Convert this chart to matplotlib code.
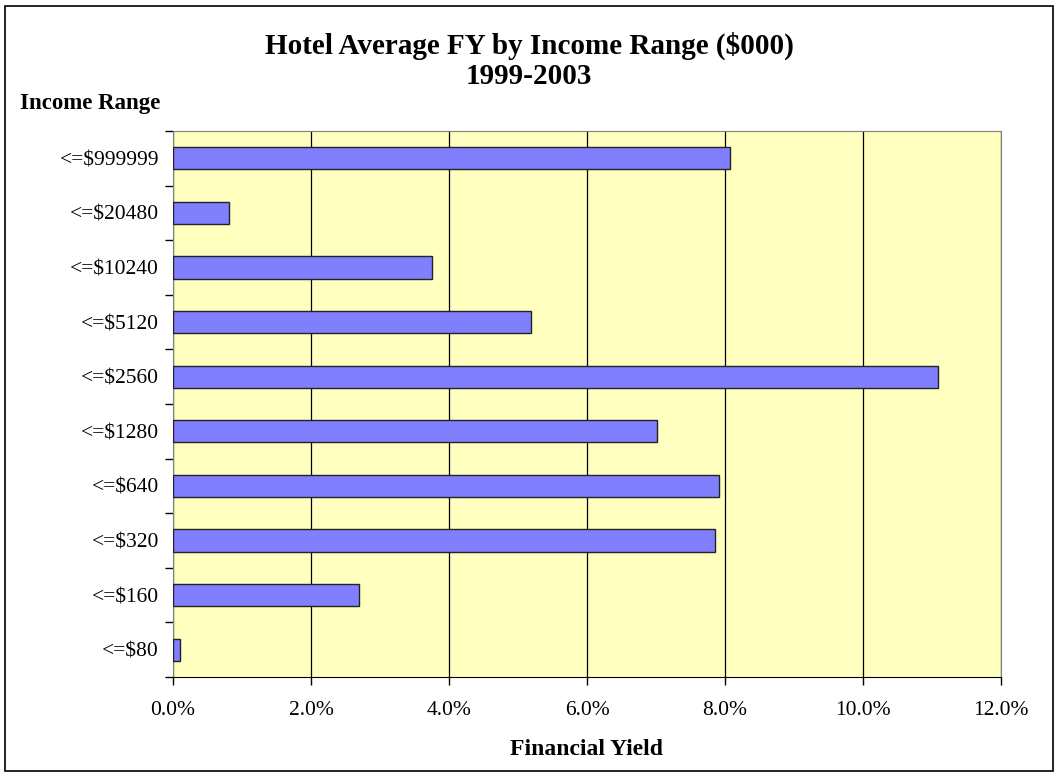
import numpy as np
import matplotlib
matplotlib.use("Agg")
import matplotlib.pyplot as plt
from matplotlib.ticker import FuncFormatter, FixedLocator

# income ranges, bottom to top as drawn
ranges = ["<=$80", "<=$160", "<=$320", "<=$640", "<=$1280",
          "<=$2560", "<=$5120", "<=$10240", "<=$20480", "<=$999999"]
# average financial yield (%)
yield_pct = [0.10, 2.70, 7.85, 7.91, 7.02, 11.08, 5.19, 3.75, 0.81, 8.07]
x_ticks = [0, 2, 4, 6, 8, 10, 12]

plt.rcParams["font.family"] = ["Liberation Serif", "DejaVu Serif"]

fig = plt.figure(figsize=(10.58, 7.76), dpi=100)
ax = fig.add_axes([173/1058, 1 - 677/776, (1001-173)/1058, (677-131)/776])

ypos = np.arange(len(ranges))
ax.barh(ypos, yield_pct, height=0.41, color="#8080FF",
        edgecolor="#222222", linewidth=1.0, zorder=3)

ax.set_facecolor("#FFFFC0")
ax.set_xlim(0, 12)
ax.set_ylim(-0.5, len(ranges) - 0.5)

ax.set_xticks(x_ticks)
ax.xaxis.set_major_formatter(FuncFormatter(lambda v, p: f"{v:.1f}%"))
ax.grid(axis="x", color="black", linewidth=0.9, zorder=1)

ax.set_yticks(ypos)
ax.set_yticklabels(ranges)
ax.yaxis.set_minor_locator(FixedLocator(np.arange(len(ranges) + 1) - 0.5))
ax.tick_params(axis="y", which="major", length=0, pad=10, labelsize=15.5)
ax.tick_params(axis="y", which="minor", length=6, width=1, color="black")
ax.tick_params(axis="x", length=6, width=1, pad=11, labelsize=15.5)

for side in ["top", "right", "left"]:
    ax.spines[side].set_color("#808080")
ax.spines["bottom"].set_color("black")

ax.set_xlabel("Financial Yield", fontsize=17, fontweight="bold", labelpad=14)

fig.text(0.5, 1 - 46/776, "Hotel Average FY by Income Range ($000)",
         ha="center", va="center", fontsize=21, fontweight="bold")
fig.text(0.5, 1 - 76/776, "1999-2003",
         ha="center", va="center", fontsize=21, fontweight="bold")
fig.text(20/1058, 1 - 104/776, "Income Range", ha="left", va="center",
         fontsize=16.5, fontweight="bold")

# outer chart border
fig.add_artist(plt.Rectangle((5/1058, 5/776), 1 - 10/1058, 1 - 11/776,
                             transform=fig.transFigure, fill=False,
                             edgecolor="black", linewidth=1.2))

fig.savefig("out.png", dpi=100, facecolor="white")
